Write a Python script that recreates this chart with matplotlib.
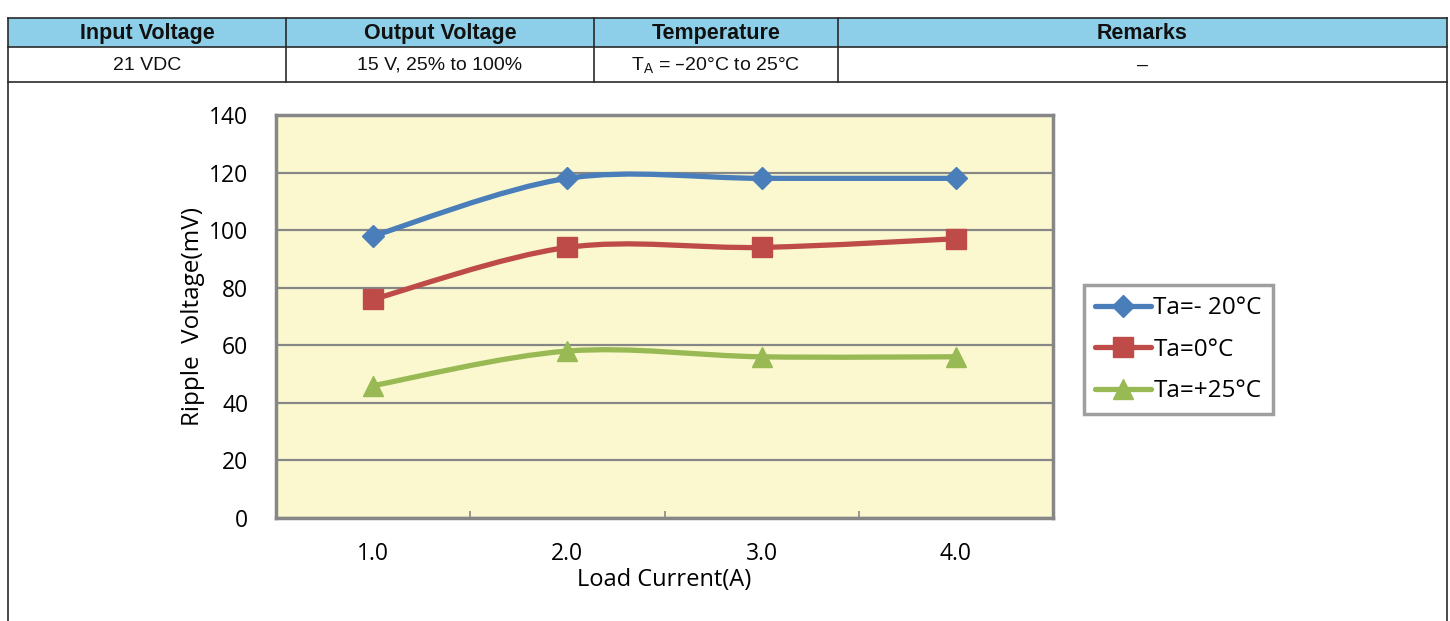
import matplotlib
matplotlib.use('Agg')
import matplotlib.pyplot as plt
from matplotlib.path import Path
from matplotlib.patches import PathPatch, Rectangle
from matplotlib.lines import Line2D
from matplotlib import font_manager

# table content
header_labels = ['Input Voltage', 'Output Voltage', 'Temperature', 'Remarks']
row_values = ['21 VDC', '15 V, 25% to 100%', 'T$_\\mathregular{A}$ = \u201320\u00b0C to 25\u00b0C', '\u2013']

# chart data
load_current = ['1.0', '2.0', '3.0', '4.0']
series_names = ['Ta=- 20\u00b0C', 'Ta=0\u00b0C', 'Ta=+25\u00b0C']
ripple_m20 = [98, 118, 118, 118]
ripple_0 = [76, 94, 94, 97]
ripple_p25 = [46, 58, 56, 56]

colors = ['#4a7ebb', '#be4b48', '#98b954']
markers = ['D', 's', '^']
msizes = [11, 14, 14]

names = {f.name for f in font_manager.fontManager.ttflist}
table_font = 'Liberation Sans Narrow' if 'Liberation Sans Narrow' in names else 'Liberation Sans'
chart_font = 'Open Sans'

W, H = 1450, 621
fig = plt.figure(figsize=(W / 100, H / 100), dpi=100)

# background axes in pixel units for the table frame
bg = fig.add_axes([0, 0, 1, 1])
bg.set_xlim(0, W)
bg.set_ylim(H, 0)
bg.axis('off')

col_edges = [8, 286, 594, 838, 1447]
y_top, y_mid, y_row, y_bot = 18, 47, 82, 621
bg.add_patch(Rectangle((col_edges[0], y_top), col_edges[-1] - col_edges[0], y_mid - y_top,
                       facecolor='#8dcfe9', edgecolor='none'))
lc = '#2a2a2a'
for yy in [y_top, y_mid, y_row]:
    bg.plot([col_edges[0], col_edges[-1]], [yy, yy], color=lc, lw=1.2)
for xx in col_edges[1:-1]:
    bg.plot([xx, xx], [y_top, y_row], color=lc, lw=1.2)
for xx in [col_edges[0], col_edges[-1]]:
    bg.plot([xx, xx], [y_top, y_bot], color=lc, lw=1.2)

for i in range(4):
    cx = (col_edges[i] + col_edges[i + 1]) / 2
    bg.text(cx, (y_top + y_mid) / 2 + 1, header_labels[i], ha='center', va='center',
            fontsize=15.5, fontweight='bold', family=table_font, color='#111111')
    bg.text(cx, (y_mid + y_row) / 2 + 1, row_values[i], ha='center', va='center',
            fontsize=14, family=table_font, color='#111111')

# chart
ax = fig.add_axes([276 / W, 1 - 518 / H, (1053 - 276) / W, (518 - 115) / H])
ax.set_facecolor('#fbf8cf')
ax.set_xlim(0.5, 4.5)
ax.set_ylim(0, 140)
ax.set_yticks(range(0, 141, 20))
ax.set_yticklabels([str(v) for v in range(0, 141, 20)], family=chart_font, fontsize=16.5)
xs = list(range(1, len(load_current) + 1))
ax.set_xticks(xs)
ax.set_xticklabels(load_current, family=chart_font, fontsize=16.5)
ax.set_xticks([1.5, 2.5, 3.5], minor=True)
ax.tick_params(axis='x', which='major', length=0, pad=17)
ax.tick_params(axis='x', which='minor', direction='in', length=5, width=1.2, color='#888888')
ax.tick_params(axis='y', length=0, pad=20)
ax.grid(axis='y', color='#878787', lw=1.6)
ax.set_axisbelow(True)
for s in ax.spines.values():
    s.set_color('#878787')
    s.set_linewidth(2.5)

ax.set_xlabel('Load Current(A)', family=chart_font, fontsize=17, labelpad=2)
ax.set_ylabel('Ripple  Voltage(mV)', family=chart_font, fontsize=17.5, labelpad=3)


def smooth_path(x, y):
    # Catmull-Rom style bezier, like a spreadsheet smoothed line
    pts = list(zip(x, y))
    n = len(pts)
    verts = [pts[0]]
    codes = [Path.MOVETO]
    for i in range(n - 1):
        p0 = pts[max(i - 1, 0)]
        p1 = pts[i]
        p2 = pts[i + 1]
        p3 = pts[min(i + 2, n - 1)]
        c1 = (p1[0] + (p2[0] - p0[0]) / 6, p1[1] + (p2[1] - p0[1]) / 6)
        c2 = (p2[0] - (p3[0] - p1[0]) / 6, p2[1] - (p3[1] - p1[1]) / 6)
        verts += [c1, c2, p2]
        codes += [Path.CURVE4] * 3
    return Path(verts, codes)


handles = []
for vals, c, m, ms, name in zip([ripple_m20, ripple_0, ripple_p25], colors, markers, msizes, series_names):
    ax.add_patch(PathPatch(smooth_path(xs, vals), facecolor='none', edgecolor=c, lw=3.8,
                           capstyle='round', joinstyle='round', zorder=3))
    ax.plot(xs, vals, ls='none', marker=m, ms=ms, color=c, zorder=4)
    handles.append(Line2D([], [], color=c, lw=3.8, marker=m, ms=ms, solid_capstyle='round'))

leg = fig.legend(handles, series_names, loc='lower left', bbox_to_anchor=(1084 / W, 1 - 414 / H),
                 prop={'family': chart_font, 'size': 17.5}, frameon=True, fancybox=False,
                 handlelength=2.3, handletextpad=0.1, labelspacing=0.72, borderpad=0.45,
                 borderaxespad=0)
leg.get_frame().set_edgecolor('#878787')
leg.get_frame().set_linewidth(2.5)

fig.savefig('out.png', dpi=100)
